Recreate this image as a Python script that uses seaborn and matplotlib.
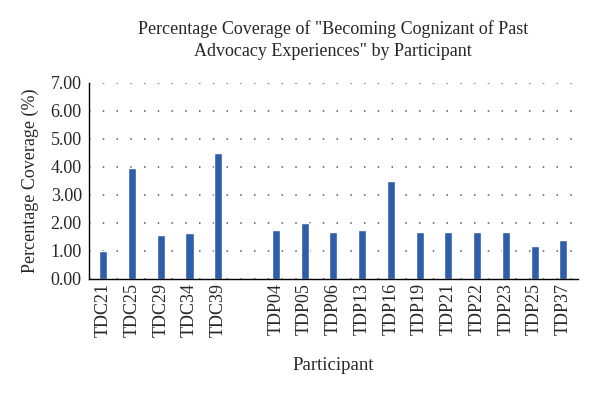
import matplotlib
matplotlib.use("Agg")
import matplotlib.pyplot as plt
import seaborn as sns
import numpy as np
import pandas as pd

participants = ["TDC21", "TDC25", "TDC29", "TDC34", "TDC39", " ",
                "TDP04", "TDP05", "TDP06", "TDP13", "TDP16", "TDP19",
                "TDP21", "TDP22", "TDP23", "TDP25", "TDP37"]
coverage = [1.00, 3.95, 1.55, 1.63, 4.49, np.nan,
            1.73, 2.00, 1.67, 1.73, 3.48, 1.67,
            1.67, 1.67, 1.67, 1.18, 1.38]
yticks = [0, 1, 2, 3, 4, 5, 6, 7]

sns.set_style("white")
plt.rcParams['font.family'] = ['Liberation Serif', 'DejaVu Serif']

df = pd.DataFrame({"Participant": participants, "Coverage": coverage})

fig = plt.figure(figsize=(6, 3.96), dpi=100)
ax = fig.add_axes([0.148, 0.296, 0.815, 0.495])
sns.barplot(data=df, x="Participant", y="Coverage", order=participants,
            color="#2E5EAA", saturation=1, width=0.28, ax=ax)

ax.set_ylim(0, 7)
ax.set_yticks(yticks)
ax.set_yticklabels([f"{v:.2f}" for v in yticks], fontsize=13)
ax.set_xlim(-0.5, len(participants) - 0.5)
ax.tick_params(axis='x', labelrotation=90, labelsize=13, length=0, pad=3)
ax.tick_params(axis='y', length=0, pad=5)
ax.yaxis.grid(True, linestyle=(0, (1, 8)), color="#555555", linewidth=1.1)
ax.set_axisbelow(True)
for s in ["top", "right"]:
    ax.spines[s].set_visible(False)
for s in ["left", "bottom"]:
    ax.spines[s].set_color("black")
    ax.spines[s].set_linewidth(1.0)

ax.set_xlabel("Participant", fontsize=13.5, labelpad=14)
ax.set_ylabel("Percentage Coverage (%)", fontsize=13, labelpad=8)
fig.text(0.555, 0.899, 'Percentage Coverage of "Becoming Cognizant of Past\nAdvocacy Experiences" by Participant',
         ha="center", va="center", fontsize=13, linespacing=1.45)

fig.savefig("out.png", dpi=100)
